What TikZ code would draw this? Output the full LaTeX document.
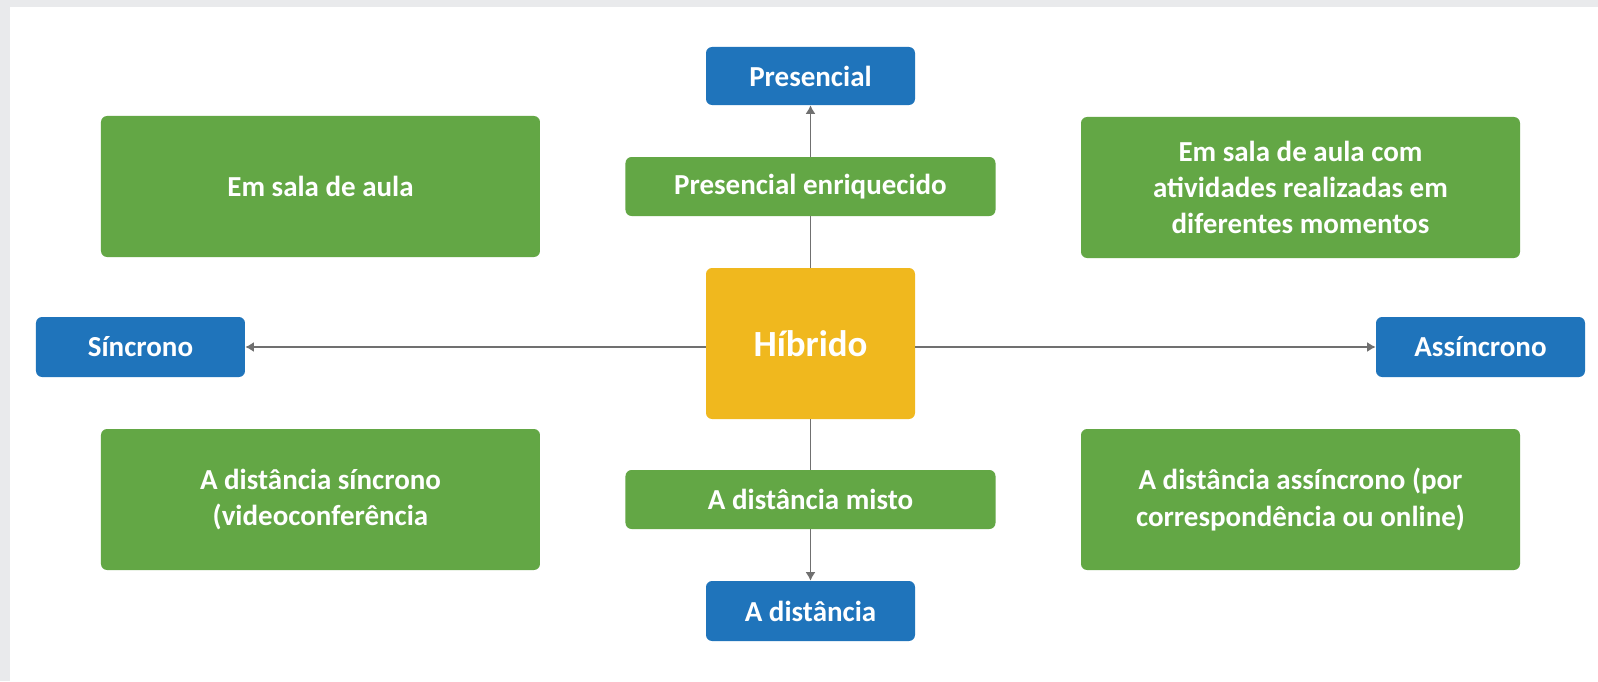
\documentclass[tikz,border=0pt]{standalone}
\usepackage{fontspec}
\setmainfont{Carlito}
\usetikzlibrary{positioning}
\usetikzlibrary{arrows.meta}
\definecolor{azul}{RGB}{31,116,187}
\definecolor{verde}{RGB}{99,167,69}
\definecolor{amarelo}{RGB}{240,184,30}
\definecolor{seta}{RGB}{112,112,112}
\definecolor{fundo}{RGB}{233,234,236}

\begin{document}
\begin{tikzpicture}[every node/.style={text=white,font=\bfseries\fontsize{16.5}{20.5}\selectfont}]

	\tikzstyle{box}=[rectangle,rounded corners=3.5pt,align=center,inner sep=0pt]
	\tikzstyle{blue box}=[box,fill=azul,minimum width=4.18cm,minimum height=1.2cm]
	\tikzstyle{green box}=[box,fill=verde,minimum width=8.78cm,minimum height=2.82cm]
	\tikzstyle{green bar}=[box,fill=verde,minimum width=7.4cm,minimum height=1.18cm]
	\tikzstyle{link}=[draw=seta,line width=0.85pt]

	% background
	\fill[fundo] (-16.21,-6.68) rectangle (15.75,6.94);
	\fill[white] (-16.01,-6.68) rectangle (15.75,6.80);

	% centre
	\node [box,fill=amarelo,minimum width=4.18cm,minimum height=3.02cm,font=\bfseries\fontsize{21}{25}\selectfont] at (0,0.07) (hib) {Híbrido};

	% vertical axis
	\node [green bar] at (0,3.21) (enr) {Presencial enriquecido};
	\node [blue box,minimum height=1.16cm] at (0,5.42) (pres) {Presencial};
	\node [green bar] at (0,-3.05) (misto) {A distância misto};
	\node [blue box] at (0,-5.28) (dist) {A distância};

	% horizontal axis
	\node [blue box] at (-13.4,0) (sinc) {Síncrono};
	\node [blue box] at (13.4,0) (assinc) {Assíncrono};

	% quadrants
	\node [green box] at (-9.8,3.21) (sala) {Em sala de aula};
	\node [green box] at (9.8,3.19) (salamom) {Em sala de aula com\\atividades realizadas em\\diferentes momentos};
	\node [green box] at (-9.8,-3.05) (distsinc) {A distância síncrono\\(videoconferência};
	\node [green box] at (9.8,-3.05) (distassinc) {A distância assíncrono (por\\correspondência ou online)};

	\draw[link] (hib) -- (enr);
	\draw[link,-{Latex[length=1.7mm,width=2mm]}] (enr) -- (pres);
	\draw[link] (hib) -- (misto);
	\draw[link,-{Latex[length=1.7mm,width=2mm]}] (misto) -- (dist);
	\draw[link,-{Latex[length=1.7mm,width=2mm]}] (hib.west |- sinc.east) -- (sinc.east);
	\draw[link,-{Latex[length=1.7mm,width=2mm]}] (hib.east |- assinc.west) -- (assinc.west);

\end{tikzpicture}
\end{document}
